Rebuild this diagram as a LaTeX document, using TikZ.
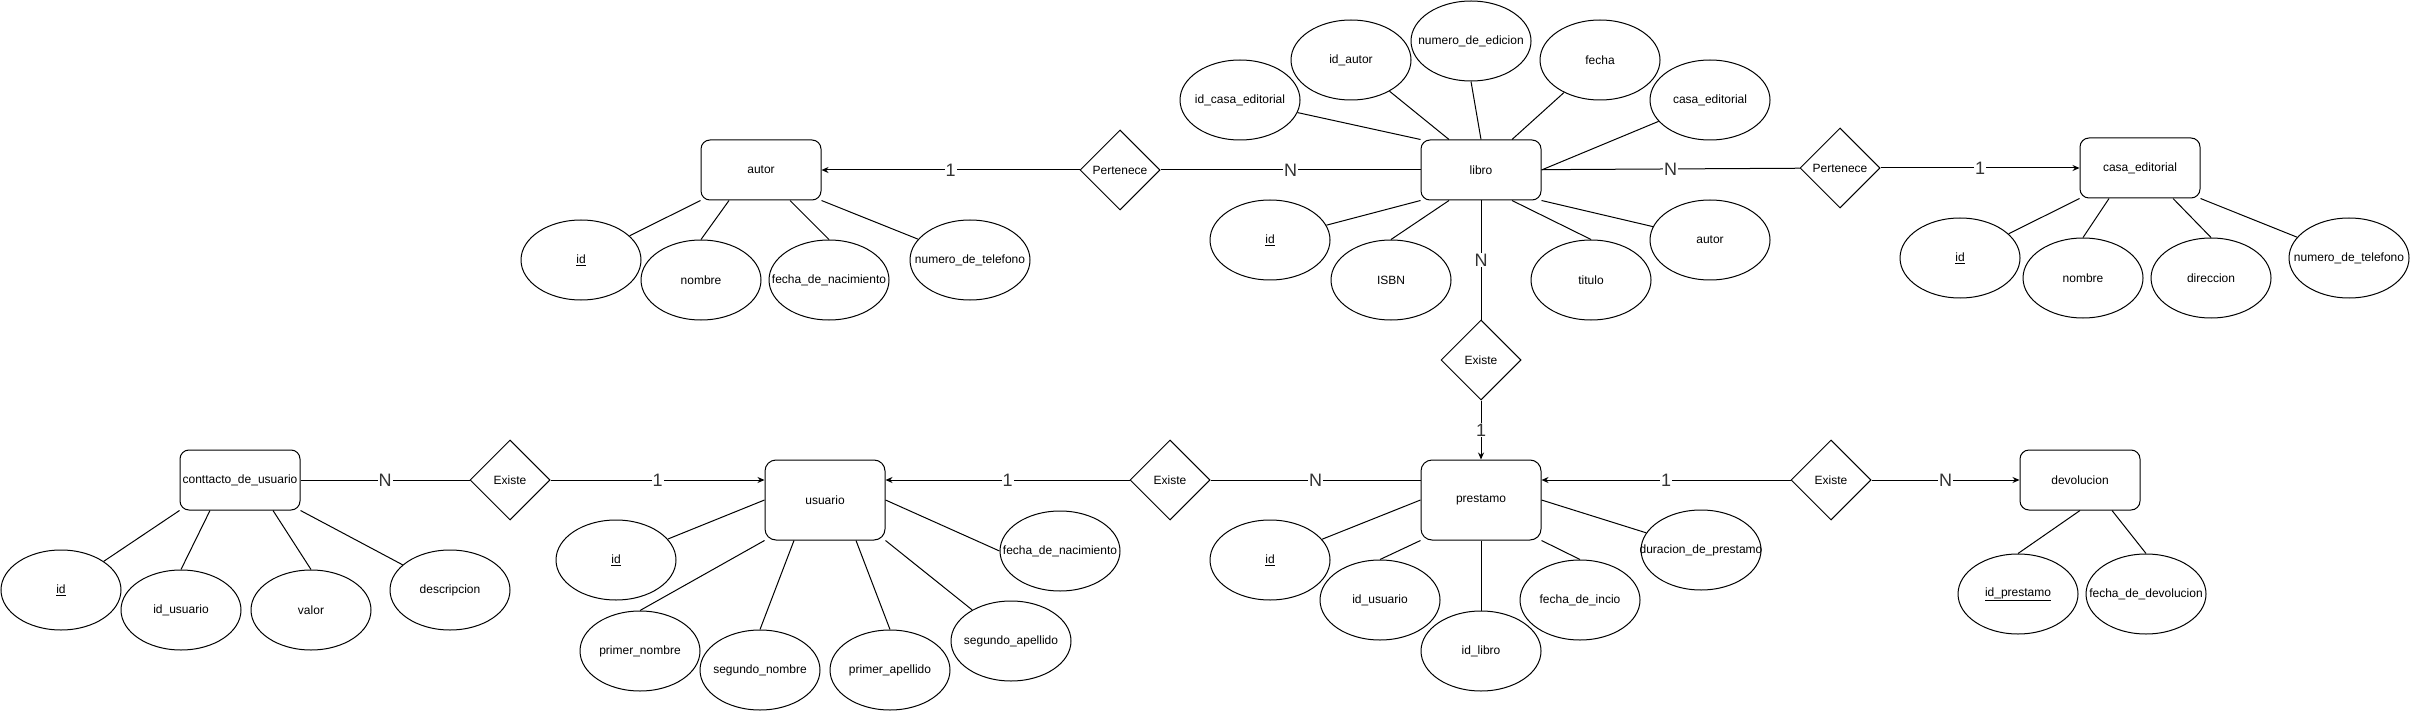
\documentclass[tikz,border=0pt]{standalone}
\usepackage{fontspec}
\setmainfont{Liberation Sans}
\usetikzlibrary{shapes.geometric,arrows.meta}

\tikzset{
  entity/.style={draw, rounded corners=9pt, minimum width=120pt, minimum height=60pt, inner sep=0pt},
  relation/.style={draw, diamond, aspect=1, minimum width=80pt, minimum height=80pt, inner sep=0pt},
  attr/.style={draw, ellipse, minimum width=120pt, minimum height=80pt, inner sep=0pt},
  lbl/.style={fill=white, text=black!80, font=\fontsize{18}{20}\selectfont, inner sep=1pt},
  link/.style={-{Stealth[length=7pt,width=6pt]}}
}
\newcommand{\atxt}[1]{\makebox[0pt]{#1}}

\begin{document}
\begin{tikzpicture}[x=1pt, y=-1pt, line width=1pt, font=\fontsize{12}{14}\selectfont]
    \useasboundingbox (0,0) rectangle (2411,711);
    % entities
    \node[entity] (autor) at (761,170) {autor};
    \node[entity] (libro) at (1481,170) {libro};
    \node[entity] (casa) at (2140,168) {casa\_editorial};
    \node[entity] (contacto) at (240,480) {conttacto\_de\_usuario};
    \node[entity, minimum height=80pt, rounded corners=11pt] (usuario) at (825,500) {usuario};
    \node[entity, minimum height=80pt, rounded corners=11pt] (prestamo) at (1481,500) {prestamo};
    \node[entity] (devol) at (2080,480) {devolucion};
    % relations
    \node[relation] (pertA) at (1120,170) {Pertenece};
    \node[relation] (pertB) at (1840,168) {Pertenece};
    \node[relation] (exA) at (510,480) {Existe};
    \node[relation] (exB) at (1170,480) {Existe};
    \node[relation] (exC) at (1481,360) {Existe};
    \node[relation] (exD) at (1831,480) {Existe};
    % relation links
    \draw[link] (pertA) -- node[lbl]{1} (autor);
    \draw (libro) -- node[lbl]{N} (pertA);
    \draw (libro) -- node[lbl]{N} (pertB);
    \draw[link] (pertB) -- node[lbl]{1} (casa);
    \draw (libro) -- node[lbl]{N} (exC);
    \draw[link] (exC) -- node[lbl]{1} (prestamo);
    \draw (contacto) -- node[lbl]{N} (exA);
    \draw[link] (exA) -- node[lbl]{1} (exA -| usuario.west);
    \draw[link] (exB) -- node[lbl]{1} (exB -| usuario.east);
    \draw (exB) -- node[lbl]{N} (exB -| prestamo.west);
    \draw[link] (exD) -- node[lbl]{1} (exD -| prestamo.east);
    \draw[link] (exD) -- node[lbl]{N} (devol);

    % autor attributes
    \node[attr] (autorId) at (581,260) {\atxt{\underline{id}}};
    \node[attr] (autorNom) at (701,280) {\atxt{nombre}};
    \node[attr] (autorFec) at (829,280) {\atxt{fecha\_de\_nacimiento}};
    \node[attr] (autorTel) at (970,260) {\atxt{numero\_de\_telefono}};
    \draw (autor.south west) -- (autorId);
    \draw ([xshift=-32pt]autor.south) -- (autorNom.north);
    \draw ([xshift=29pt]autor.south) -- (autorFec.north);
    \draw (autor.south east) -- (autorTel);

    % libro attributes
    \node[attr] (libroIdCasa) at (1240,100) {\atxt{id\_casa\_editorial}};
    \node[attr] (libroIdAutor) at (1351,60) {\atxt{id\_autor}};
    \node[attr] (libroNum) at (1471,41) {\atxt{numero\_de\_edicion}};
    \node[attr] (libroFec) at (1600,60) {\atxt{fecha}};
    \node[attr] (libroCasa) at (1710,100) {\atxt{casa\_editorial}};
    \node[attr] (libroId) at (1270,240) {\atxt{\underline{id}}};
    \node[attr] (libroIsbn) at (1391,280) {\atxt{ISBN}};
    \node[attr] (libroTit) at (1591,280) {\atxt{titulo}};
    \node[attr] (libroAut) at (1710,240) {\atxt{autor}};
    \draw (libro.north west) -- (libroIdCasa);
    \draw ([xshift=-32pt]libro.north) -- (libroIdAutor);
    \draw (libro.north) -- (libroNum.south);
    \draw ([xshift=31pt]libro.north) -- (libroFec);
    \draw (libro.east) -- (libroCasa);
    \draw (libro.south west) -- (libroId);
    \draw ([xshift=-32pt]libro.south) -- (libroIsbn.north);
    \draw ([xshift=31pt]libro.south) -- (libroTit.north);
    \draw (libro.south east) -- (libroAut);

    % casa_editorial attributes
    \node[attr] (casaId) at (1960,258) {\atxt{\underline{id}}};
    \node[attr] (casaNom) at (2083,278) {\atxt{nombre}};
    \node[attr] (casaDir) at (2211,278) {\atxt{direccion}};
    \node[attr] (casaTel) at (2349,258) {\atxt{numero\_de\_telefono}};
    \draw (casa.south west) -- (casaId);
    \draw ([xshift=-31pt]casa.south) -- (casaNom.north);
    \draw ([xshift=33pt]casa.south) -- (casaDir.north);
    \draw (casa.south east) -- (casaTel);

    % conttacto_de_usuario attributes
    \node[attr] (contId) at (61,590) {\atxt{\underline{id}}};
    \node[attr] (contIdUs) at (181,610) {\atxt{id\_usuario}};
    \node[attr] (contVal) at (311,610) {\atxt{valor}};
    \node[attr] (contDes) at (450,590) {\atxt{descripcion}};
    \draw (contacto.south west) -- (contId);
    \draw ([xshift=-30pt]contacto.south) -- (contIdUs.north);
    \draw ([xshift=33pt]contacto.south) -- (contVal.north);
    \draw (contacto.south east) -- (contDes);

    % usuario attributes
    \node[attr] (usId) at (616,560) {\atxt{\underline{id}}};
    \node[attr] (usPNom) at (640,651) {\atxt{primer\_nombre}};
    \node[attr] (usSNom) at (760,670) {\atxt{segundo\_nombre}};
    \node[attr] (usPApe) at (890,670) {\atxt{primer\_apellido}};
    \node[attr] (usSApe) at (1011,641) {\atxt{segundo\_apellido}};
    \node[attr] (usFec) at (1060,551) {\atxt{fecha\_de\_nacimiento}};
    \draw (usuario.west) -- (usId);
    \draw (usuario.south west) -- (usPNom.north);
    \draw ([xshift=-31pt]usuario.south) -- (usSNom.north);
    \draw ([xshift=31pt]usuario.south) -- (usPApe.north);
    \draw (usuario.south east) -- (usSApe);
    \draw (usuario.east) -- (usFec.west);

    % prestamo attributes
    \node[attr] (presId) at (1270,560) {\atxt{\underline{id}}};
    \node[attr] (presIdUs) at (1380,600) {\atxt{id\_usuario}};
    \node[attr] (presIdLib) at (1481,651) {\atxt{id\_libro}};
    \node[attr] (presFec) at (1580,600) {\atxt{fecha\_de\_incio}};
    \node[attr] (presDur) at (1701,550) {\atxt{duracion\_de\_prestamo}};
    \draw (prestamo.west) -- (presId);
    \draw (prestamo.south west) -- (presIdUs.north);
    \draw (prestamo.south) -- (presIdLib.north);
    \draw (prestamo.south east) -- (presFec.north);
    \draw (prestamo.east) -- (presDur);

    % devolucion attributes
    \node[attr] (devIdPres) at (2018,594) {\atxt{\underline{id\_prestamo}}};
    \node[attr] (devFec) at (2146,594) {\atxt{fecha\_de\_devolucion}};
    \draw (devol.south) -- (devIdPres.north);
    \draw ([xshift=32pt]devol.south) -- (devFec.north);
\end{tikzpicture}
\end{document}
